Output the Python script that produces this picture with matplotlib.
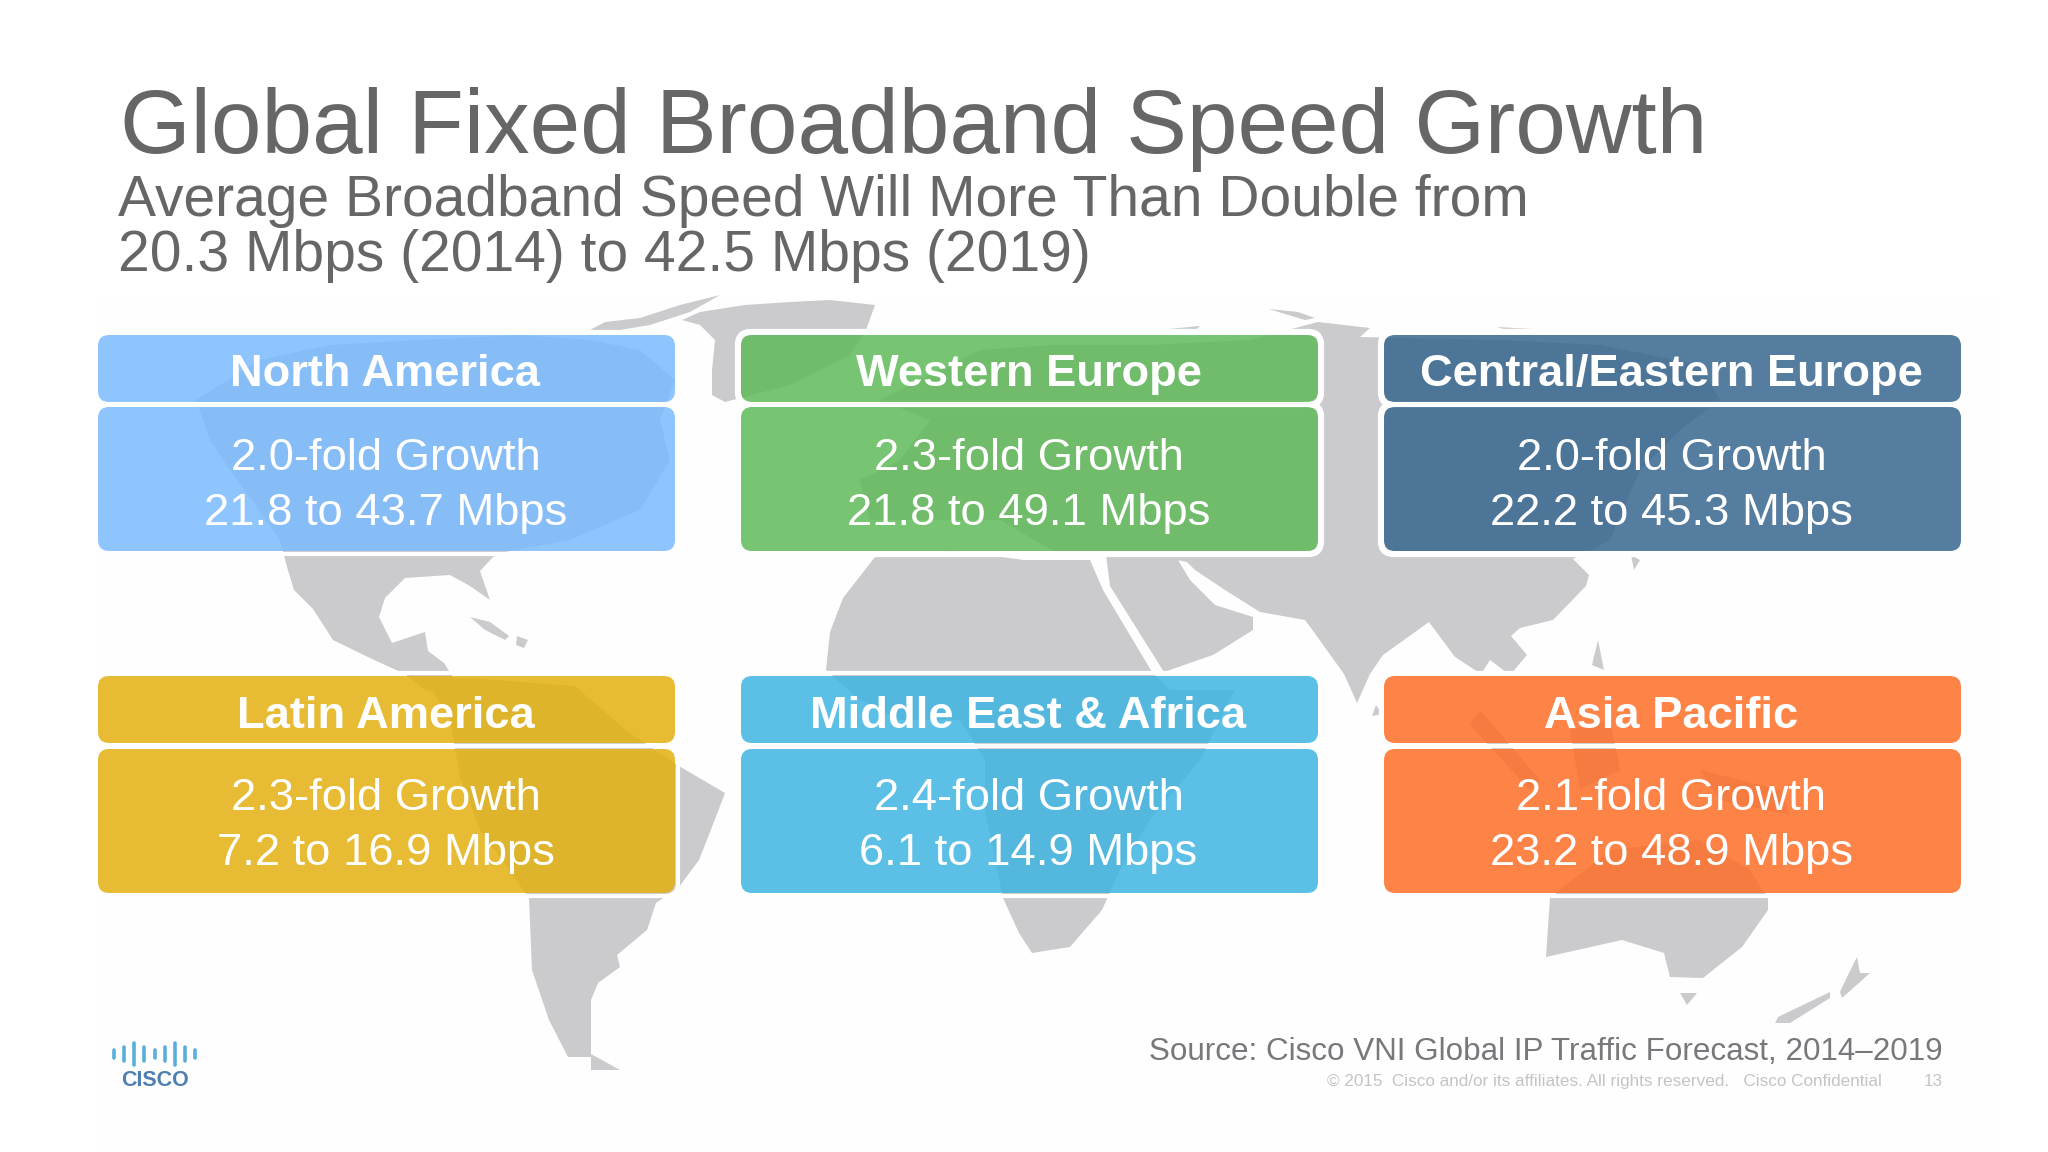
#!/usr/bin/env python3
"""Cisco VNI slide: regional fixed broadband speed growth"""

import matplotlib
matplotlib.use('Agg')
import matplotlib.pyplot as plt
from matplotlib.patches import FancyBboxPatch, Polygon, Rectangle

plt.rcParams['font.family'] = ['Liberation Sans', 'DejaVu Sans']

# chart values
regions = ['North America', 'Western Europe', 'Central/Eastern Europe',
           'Latin America', 'Middle East & Africa', 'Asia Pacific']
fold_growth = ['2.0', '2.3', '2.0', '2.3', '2.4', '2.1']
speed_2014 = ['21.8', '21.8', '22.2', '7.2', '6.1', '23.2']
speed_2019 = ['43.7', '49.1', '45.3', '16.9', '14.9', '48.9']
box_colors = ['#8FC5FE', '#78C473', '#557DA0', '#E7BD35', '#5CC0E6', '#FE8347']
white_edge = [False, True, True, False, False, False]

title = 'Global Fixed Broadband Speed Growth'
subtitle = ['Average Broadband Speed Will More Than Double from',
            '20.3 Mbps (2014) to 42.5 Mbps (2019)']
source = 'Source: Cisco VNI Global IP Traffic Forecast, 2014\u20132019'
copyright_line = '\u00a9 2015  Cisco and/or its affiliates. All rights reserved.   Cisco Confidential'
page_number = '13'

# background map outlines, slide pixels
north_america = [(196, 400), (260, 360), (330, 345), (420, 340), (520, 335), (590, 340), (640, 350),
                 (675, 380), (660, 420), (670, 460), (640, 510), (570, 540), (505, 552), (493, 557),
                 (480, 571), (490, 600), (470, 586), (450, 575), (405, 578), (385, 598), (379, 617),
                 (392, 643), (425, 632), (428, 651), (444, 663), (451, 674), (470, 700), (425, 690),
                 (405, 674), (372, 659), (333, 640), (313, 609), (294, 590), (287, 567), (280, 540),
                 (230, 470), (210, 440)]
arctic_islands = [(590, 330), (605, 322), (640, 318), (680, 305), (720, 295), (690, 312), (650, 325), (620, 330)]
greenland = [(682, 320), (700, 312), (745, 305), (790, 302), (830, 300), (875, 305), (866, 330), (850, 355),
             (790, 385), (725, 402), (712, 395), (712, 370), (715, 340), (700, 325)]
caribbean = [[(470, 617), (490, 622), (509, 636), (505, 640), (485, 630)],
             [(517, 636), (528, 640), (524, 648), (516, 645)]]
south_america = [(425, 678), (470, 678), (575, 686), (627, 731), (679, 766), (725, 793), (712, 827), (699, 860),
                 (679, 887), (656, 903), (647, 930), (617, 955), (620, 967), (598, 983), (591, 1000), (591, 1057),
                 (568, 1057), (549, 1020), (532, 970), (529, 898), (480, 830), (460, 777), (450, 720)]
tierra_del_fuego = [(591, 1054), (591, 1070), (620, 1070)]
africa = [(875, 557), (843, 598), (830, 632), (826, 670), (860, 700), (900, 720), (960, 720), (985, 760),
          (985, 810), (1003, 898), (1019, 933), (1032, 953), (1070, 947), (1102, 910), (1120, 870), (1150, 820),
          (1200, 760), (1235, 690), (1170, 690), (1152, 672), (1103, 590), (1090, 560), (1024, 560), (950, 550)]
eurasia = [(870, 520), (860, 480), (900, 460), (930, 420), (880, 400), (980, 350), (1050, 345), (1150, 345),
           (1250, 340), (1318, 322), (1370, 328), (1360, 337), (1500, 340), (1600, 345), (1700, 365), (1720, 400),
           (1680, 430), (1640, 470), (1610, 540), (1573, 559), (1589, 575), (1586, 586), (1553, 620), (1520, 628),
           (1511, 636), (1527, 655), (1510, 675), (1490, 660), (1481, 674), (1455, 657), (1429, 622), (1383, 655),
           (1370, 674), (1357, 703), (1344, 674), (1311, 628), (1305, 620), (1260, 612), (1225, 590), (1195, 570),
           (1187, 562), (1150, 555), (1106, 555), (1060, 555), (1000, 520), (930, 520)]
arabia = [(1106, 555), (1175, 555), (1190, 580), (1215, 605), (1253, 617), (1253, 630), (1213, 655), (1164, 672), (1110, 586)]
australia = [(1610, 850), (1700, 840), (1750, 870), (1768, 898), (1768, 910), (1742, 947), (1703, 978), (1670, 977),
             (1664, 953), (1622, 940), (1546, 957), (1550, 898)]
tasmania = [(1680, 993), (1697, 993), (1687, 1005)]
nz_south = [(1775, 1023), (1778, 1017), (1830, 992), (1830, 998), (1790, 1023)]
nz_north = [(1840, 992), (1847, 977), (1857, 957), (1860, 973), (1870, 973), (1842, 998)]
islands = [[(1376, 705), (1382, 714), (1372, 716)],
           [(1598, 640), (1604, 670), (1592, 665)],
           [(1631, 555), (1640, 560), (1634, 570)],
           [(1269, 309), (1298, 312), (1315, 318), (1305, 320), (1285, 314)],
           [(1497, 327), (1533, 329), (1510, 331)],
           [(1168, 329), (1200, 326), (1195, 331)],
           [(1480, 710), (1540, 780), (1530, 790), (1470, 725)],
           [(1570, 730), (1610, 720), (1620, 770), (1580, 790)],
           [(1700, 770), (1780, 790), (1790, 815), (1720, 800)]]
land = [north_america, arctic_islands, greenland, south_america, tierra_del_fuego, africa, eurasia,
        arabia, australia, tasmania, nz_south, nz_north] + caribbean + islands

# cisco logo bar heights
logo_bars = [0.35, 0.65, 1.0, 0.65, 0.35, 0.65, 1.0, 0.65, 0.35]

LAND = '#CBCBCD'
BOX_ALPHA = 0.85


def transparent_fill(hex_color):
    """Face colour that lands on hex_color over white at BOX_ALPHA"""
    rgb = [int(hex_color[i:i + 2], 16) / 255 for i in (1, 3, 5)]
    return tuple(max(0, min(1, (c - (1 - BOX_ALPHA)) / BOX_ALPHA)) for c in rgb)


def draw_box(ax, x0, y0, x1, y1, color, halo):
    halo_pad = 3
    ax.add_patch(FancyBboxPatch((x0 - halo_pad, y0 - halo_pad), x1 - x0 + 2 * halo_pad, y1 - y0 + 2 * halo_pad,
                                boxstyle='round,pad=0,rounding_size=13', fc='none', ec='white',
                                lw=4.5 if halo else 3.0, zorder=3))
    ax.add_patch(FancyBboxPatch((x0, y0), x1 - x0, y1 - y0, boxstyle='round,pad=0,rounding_size=11',
                                fc=transparent_fill(color), ec='none', alpha=BOX_ALPHA, zorder=4))


fig = plt.figure(figsize=(20.48, 11.52), dpi=100)
ax = fig.add_axes([0, 0, 1, 1])
ax.set_xlim(0, 2048)
ax.set_ylim(1152, 0)
ax.axis('off')

ax.add_patch(Rectangle((98, 300), 1900, 852, fc='#FEFEFE', ec='none', zorder=0))
for outline in land:
    ax.add_patch(Polygon(outline, closed=True, fc=LAND, ec='none', zorder=1))

text_gray = '#666666'
ax.text(119.5, 153, title, fontsize=65.4, color=text_gray, va='baseline', ha='left')
ax.text(118.5, 216, subtitle[0], fontsize=41, color=text_gray, va='baseline', ha='left')
ax.text(118.5, 271, subtitle[1], fontsize=41, color=text_gray, va='baseline', ha='left')

col_x = [(98, 675), (741, 1318), (1384, 1961)]
row_y = [(335, 402, 407, 551, 386, 470, 525), (676, 743, 749, 893, 728, 810, 865)]

for i, region in enumerate(regions):
    x0, x1 = col_x[i % 3]
    top, head_end, body_top, body_end, head_base, line1, line2 = row_y[i // 3]
    draw_box(ax, x0, top, x1, head_end, box_colors[i], white_edge[i])
    draw_box(ax, x0, body_top, x1, body_end, box_colors[i], white_edge[i])
    cx = (x0 + x1) / 2 - 1
    ax.text(cx, head_base, region, fontsize=32.6, fontweight='bold', color='white',
            ha='center', va='baseline', zorder=5)
    ax.text(cx, line1, f'{fold_growth[i]}-fold Growth', fontsize=32.7, color='white',
            ha='center', va='baseline', zorder=5)
    ax.text(cx, line2, f'{speed_2014[i]} to {speed_2019[i]} Mbps', fontsize=32.7, color='white',
            ha='center', va='baseline', zorder=5)

ax.text(1943, 1060, source, fontsize=22.6, color='#77787B', ha='right', va='baseline', zorder=5)
ax.text(1882, 1086, copyright_line, fontsize=12.3, color='#C4C4C6', ha='right', va='baseline', zorder=5)
ax.text(1943, 1086, page_number, fontsize=12.3, color='#C4C4C6', ha='right', va='baseline', zorder=5)

# logo
bar_x = [114 + k * (195 - 114) / (len(logo_bars) - 1) for k in range(len(logo_bars))]
for bx, h in zip(bar_x, logo_bars):
    half = 11 * h
    ax.plot([bx, bx], [1054 - half, 1054 + half], color='#5AAEDB', lw=2.6, solid_capstyle='round', zorder=5)
ax.text(154.5, 1086, 'CISCO', fontsize=15.5, fontweight='bold', color='#4F7FB0', ha='center', va='baseline', zorder=5)

fig.savefig('out.png', dpi=100)
